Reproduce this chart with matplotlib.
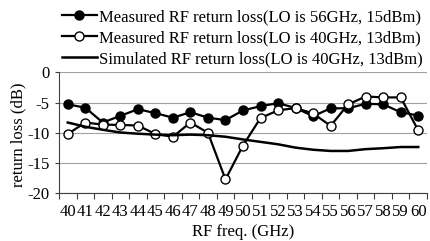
import numpy as np
import matplotlib
matplotlib.use('Agg')
import matplotlib.pyplot as plt
from matplotlib.ticker import FixedLocator

plt.rcParams['font.family'] = ['Liberation Serif', 'DejaVu Serif']
plt.rcParams['axes.unicode_minus'] = False

# RF frequency categories (GHz)
freq = [str(f) for f in range(40, 61)]

# return loss (dB)
meas_56 = [-5.3, -5.85, -8.3, -7.2, -6.1, -6.75, -7.5, -6.6, -7.5, -7.9, -6.3,
           -5.6, -5.1, -5.9, -7.25, -5.95, -5.95, -5.2, -5.3, -6.6, -7.15]
meas_40 = [-10.2, -8.3, -8.65, -8.7, -8.8, -10.2, -10.65, -8.3, -10.0, -17.7, -12.1,
           -7.55, -6.3, -5.9, -6.8, -8.85, -5.3, -4.0, -4.15, -4.15, -9.6]
sim_40 = [-8.3, -9.0, -9.5, -9.95, -10.15, -10.3, -10.4, -10.3, -10.4, -10.65, -11.1,
          -11.5, -11.9, -12.45, -12.8, -13.0, -13.0, -12.7, -12.55, -12.35, -12.35]

yticks = [0, -5, -10, -15, -20]
fs = 12

fig = plt.figure(figsize=(4.31, 2.41), dpi=100)
ax = fig.add_axes([59/431, 1 - 193.3/241, 368/431, 121/241])

x = np.arange(len(freq))
l1, = ax.plot(x, meas_56, '-o', color='black', lw=1.6, ms=6.5,
              mfc='black', mec='black', mew=1.0,
              label='Measured RF return loss(LO is 56GHz, 15dBm)')
l2, = ax.plot(x, meas_40, '-o', color='black', lw=1.6, ms=6.5,
              mfc='white', mec='black', mew=1.0,
              label='Measured RF return loss(LO is 40GHz, 13dBm)')
l3, = ax.plot(x, sim_40, '-', color='black', lw=1.8,
              label='Simulated RF return loss(LO is 40GHz, 13dBm)')

ax.set_xlim(-0.5, len(freq) - 0.5)
ax.set_ylim(-20, 0)
ax.set_xticks(x)
ax.set_xticklabels(freq, fontsize=fs)
ax.xaxis.set_minor_locator(FixedLocator(np.arange(-0.5, len(freq), 1.0)))
ax.tick_params(axis='x', which='major', length=0, pad=8)
ax.tick_params(axis='x', which='minor', length=4, width=0.8, color='#404040')
ax.set_yticks(yticks)
ax.set_yticklabels([str(v) for v in yticks], fontsize=fs)
ax.tick_params(axis='y', length=3, width=0.8, color='#404040', pad=4)

ax.grid(axis='y', color='#a0a0a0', lw=0.8)
ax.set_axisbelow(True)
for s in ['top', 'right']:
    ax.spines[s].set_visible(False)
ax.spines['left'].set_color('#404040')
ax.spines['bottom'].set_color('#404040')

ax.set_xlabel('RF freq. (GHz)', fontsize=fs)
ax.xaxis.set_label_coords(0.5, -0.25)
ax.set_ylabel('return loss (dB)', fontsize=fs, va='center')
ax.yaxis.set_label_coords(-0.109, 0.48)

fig.legend(handles=[l1, l2, l3], loc='upper left',
           bbox_to_anchor=(62/431, 1 - 9/241), frameon=False,
           fontsize=fs, handlelength=2.1, handletextpad=0.15,
           labelspacing=0.3, borderpad=0, borderaxespad=0)

fig.savefig('out.png', dpi=100)
